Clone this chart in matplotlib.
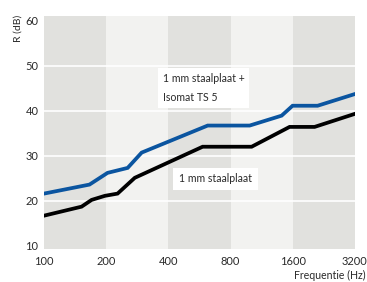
import matplotlib
matplotlib.use('Agg')
import matplotlib.pyplot as plt

plt.rcParams['font.family'] = ['Lato', 'DejaVu Sans']

# octave band edges (shaded background)
bands = [100, 200, 400, 800, 1600, 3200]
freq_ticks = [100, 200, 400, 800, 1600, 3200]
db_ticks = [10, 20, 30, 40, 50, 60]

# 1 mm staalplaat + Isomat TS 5
f_iso = [100, 166, 203, 254, 297, 620, 990, 1414, 1598, 2112, 3200]
r_iso = [21.6, 23.6, 26.2, 27.3, 30.7, 36.7, 36.7, 38.9, 41.1, 41.1, 43.7]

# 1 mm staalplaat
f_st = [100, 152, 170, 197, 227, 275, 586, 1012, 1545, 2042, 3200]
r_st = [16.7, 18.7, 20.2, 21.1, 21.6, 25.1, 32.0, 32.0, 36.4, 36.4, 39.3]

fig = plt.figure(figsize=(3.67, 2.82), dpi=100)
ax = fig.add_axes([0.12, 0.117, 0.847, 0.826])
ax.set_xscale('log', base=2)
ax.set_xlim(100, 3200)
ax.set_ylim(9.3, 61)

dark = '#e1e1de'
light = '#f2f2f0'
for i in range(len(bands) - 1):
    ax.axvspan(bands[i], bands[i + 1], color=dark if i % 2 == 0 else light, lw=0, zorder=0)

for y in [20, 30, 40, 50]:
    ax.axhline(y, color='white', lw=1.2, zorder=1)

ax.plot(f_iso, r_iso, color='#0b55a0', lw=2.7, solid_joinstyle='miter', zorder=3)
ax.plot(f_st, r_st, color='black', lw=2.7, solid_joinstyle='miter', zorder=3)

txtc = '#2a2a2a'
ax.text(376, 45.0, '1 mm staalplaat +\nIsomat TS 5', fontsize=7.6, color=txtc,
        va='center', ha='left', linespacing=1.85, zorder=4,
        bbox=dict(facecolor='white', edgecolor='none', pad=3.5))
ax.text(450, 24.9, '1 mm staalplaat', fontsize=7.6, color=txtc,
        va='center', ha='left', zorder=4,
        bbox=dict(facecolor='white', edgecolor='none', pad=4))

ax.set_xticks(freq_ticks)
ax.set_xticklabels([str(f) for f in freq_ticks])
ax.minorticks_off()
ax.set_yticks(db_ticks)
ax.tick_params(length=0, labelsize=8, colors=txtc, pad=5)
ax.tick_params(axis='y', pad=4)
for s in ax.spines.values():
    s.set_visible(False)

fig.text(0.05, 0.947, 'R (dB)', rotation=90, fontsize=7.5, color=txtc, ha='center', va='top')
fig.text(0.997, 0.005, 'Frequentie (Hz)', fontsize=7.6, color=txtc, ha='right', va='bottom')

plt.savefig('out.png', dpi=100)
